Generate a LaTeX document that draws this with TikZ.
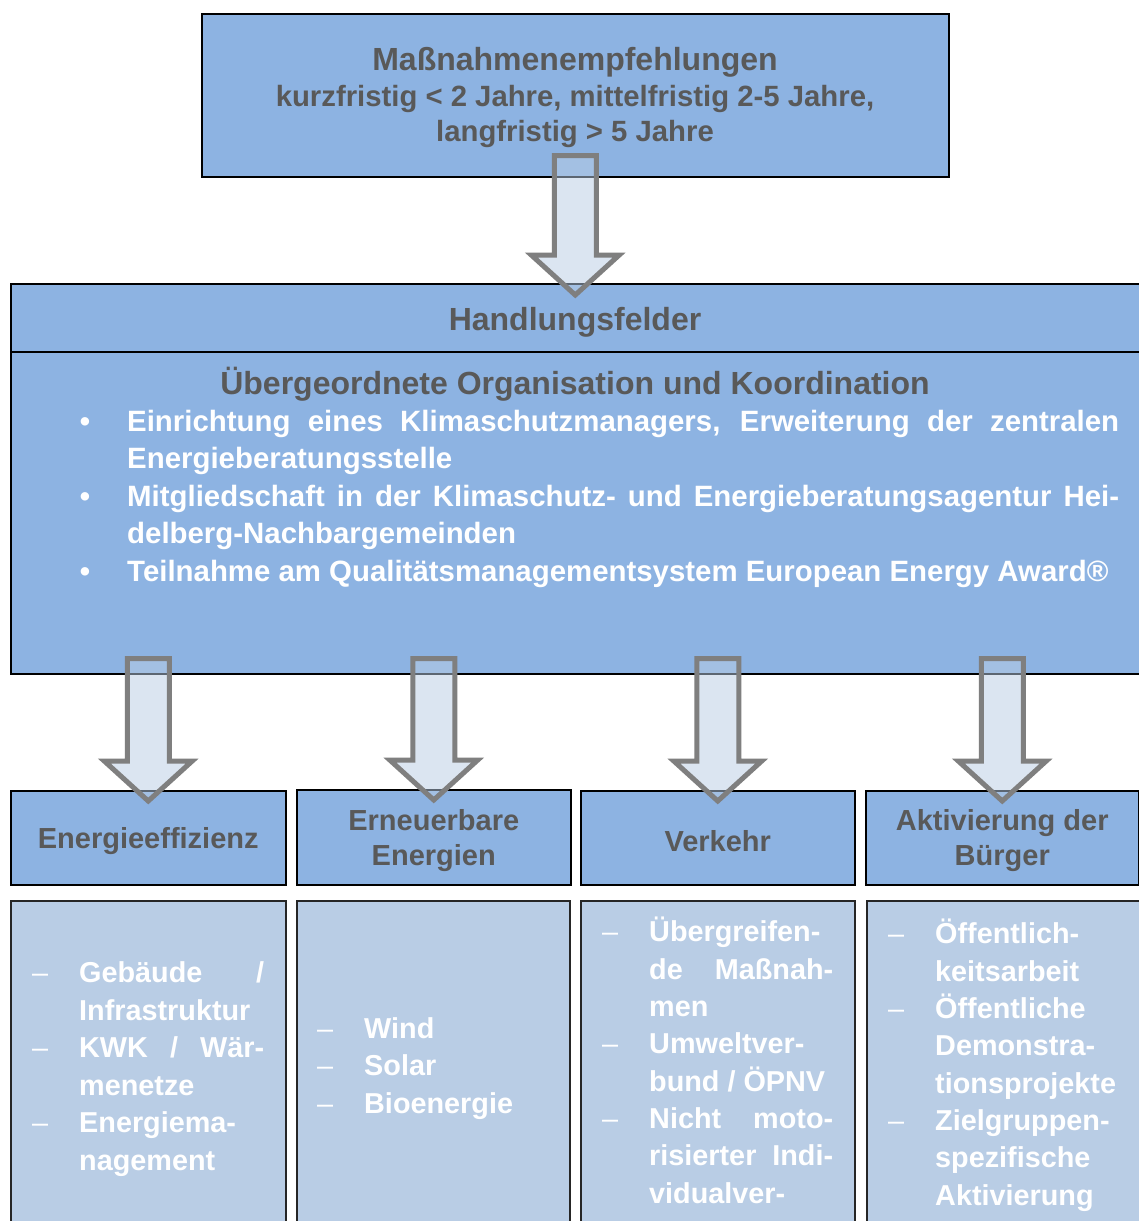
\documentclass[tikz,border=0pt]{standalone}
\usepackage{fontspec}
\setmainfont{Liberation Sans}
\usetikzlibrary{calc}
\definecolor{boxblue}{HTML}{8DB3E2}
\definecolor{lightblue}{HTML}{B9CDE5}
\definecolor{titlegray}{HTML}{595959}
\definecolor{arrowgray}{HTML}{7F7F7F}
\newcommand\bdash{\llap{\mdseries\textendash\hspace{31pt}}}
\newcommand\bbullet{\llap{•\hspace{37pt}}}
\newcommand\fatarrow[2]{%
  \draw[fatarrowstyle] let \p1=(#1), \p2=(#2) in
    (\x1-21pt,\y1) -- (\x1+21pt,\y1) -- (\x1+21pt,\y2+40pt) -- (\x1+44pt,\y2+40pt)
    -- (\x1,\y2) -- (\x1-44pt,\y2+40pt) -- (\x1-21pt,\y2+40pt) -- cycle;}
\begin{document}
\begin{tikzpicture}[x=1pt,y=-1pt,
  mainbox/.style={draw=black, line width=1.5pt, fill=boxblue, inner sep=0pt, anchor=north west},
  subbox/.style={draw=black!85, line width=1.5pt, fill=lightblue, inner sep=0pt, anchor=north west},
  headtext/.style={text=titlegray, font=\bfseries\fontsize{29}{35}\selectfont, align=center, inner sep=0pt},
  titletext/.style={text=titlegray, font=\bfseries\fontsize{32}{37}\selectfont, align=center, inner sep=0pt},
  bodytext/.style={text=white, font=\bfseries\fontsize{28.8}{37.5}\selectfont, align=left, anchor=base west, inner sep=0pt},
  fatarrowstyle/.style={draw=arrowgray, line width=5pt, fill=lightblue, fill opacity=0.5, line join=miter}
]
\useasboundingbox (0,0) rectangle (1139,1221);
\fill[white] (0,0) rectangle (1139,1221);
\clip (0,0) rectangle (1139,1221);

% top box
\node[mainbox, minimum width=747pt, minimum height=163pt] (top) at (201,13) {};
\node[headtext, font=\bfseries\fontsize{29.3}{35}\selectfont] (toptext) at (575,98)
  {{\fontsize{32}{37}\selectfont Maßnahmenempfehlungen}\\[1pt]
   kurzfristig < 2 Jahre, mittelfristig 2-5 Jahre,\\
   langfristig > 5 Jahre};

% Handlungsfelder box
\node[mainbox, minimum width=1129pt, minimum height=390pt] (hf) at (10,283) {};
\draw[line width=1.5pt] ($(hf.north west)+(0,69)$) -- ($(hf.north east)+(0,69)$);
\node[titletext] (hftitle) at (575,322.5) {Handlungsfelder};
\node[titletext] (orgtitle) at (575,384) {Übergeordnete Organisation und Koordination};
% last baseline of five lines
\node[bodytext, font=\bfseries\fontsize{29.4}{37.5}\selectfont] (orgbody) at (127,581)
  {\bbullet\makebox[992pt][s]{Einrichtung eines Klimaschutzmanagers, Erweiterung der zentralen}\\
   Energieberatungsstelle\\
   \bbullet\makebox[992pt][s]{Mitgliedschaft in der Klimaschutz- und Energieberatungsagentur Hei-}\\
   delberg-Nachbargemeinden\\
   \bbullet Teilnahme am Qualitätsmanagementsystem European Energy Award®};

% header boxes
\node[mainbox, minimum width=275pt, minimum height=94pt] (h1) at (10,790) {};
\node[mainbox, minimum width=274pt, minimum height=95pt] (h2) at (296,789) {};
\node[mainbox, minimum width=274pt, minimum height=94pt] (h3) at (580,790) {};
\node[mainbox, minimum width=273pt, minimum height=94pt] (h4) at (865,790) {};
\node[headtext] (h1text) at ($(h1.center)+(0,3.5)$) {Energieeffizienz};
\node[headtext] (h2text) at ($(h2.center)+(0,3)$) {Erneuerbare\\Energien};
\node[headtext] (h3text) at ($(h3.center)+(0,3.5)$) {Verkehr};
\node[headtext] (h4text) at ($(h4.center)+(0,3)$) {Aktivierung der\\Bürger};

% sub boxes
\node[subbox, minimum width=275pt, minimum height=340pt] (s1) at (10,900) {};
\node[subbox, minimum width=273pt, minimum height=340pt] (s2) at (296,900) {};
\node[subbox, minimum width=274pt, minimum height=340pt] (s3) at (580,900) {};
\node[subbox, minimum width=273pt, minimum height=340pt] (s4) at (866,900) {};

\node[bodytext] (t1) at (79,1170)
  {\bdash\makebox[185pt][s]{Gebäude /}\\
   Infrastruktur\\
   \bdash\makebox[185pt][s]{KWK / Wär-}\\
   menetze\\
   \bdash Energiema-\\
   nagement};
\node[bodytext] (t2) at (364,1113)
  {\bdash Wind\\ \bdash Solar\\ \bdash Bioenergie};
\node[bodytext, font=\bfseries\fontsize{28.8}{37.3}\selectfont] (t3) at (649,1203)
  {\bdash Übergreifen-\\
   \makebox[184pt][s]{de Maßnah-}\\
   men\\
   \bdash Umweltver-\\
   bund / ÖPNV\\
   \bdash\makebox[184pt][s]{Nicht moto-}\\
   \makebox[184pt][s]{risierter Indi-}\\
   vidualver-};
\node[bodytext, font=\bfseries\fontsize{28.8}{37.3}\selectfont] (t4) at (935,1205)
  {\bdash Öffentlich-\\
   keitsarbeit\\
   \bdash Öffentliche\\
   Demonstra-\\
   tionsprojekte\\
   \bdash Zielgruppen-\\
   spezifische\\
   Aktivierung};

% arrows
\coordinate (a0s) at ($(top.south)+(0,-22)$);
\coordinate (a0t) at ($(hf.north)+(0,12)$);
\fatarrow{a0s}{a0t}
\foreach \b in {h1,h2,h3,h4}{
  \coordinate (\b s) at ($(\b.north |- hf.south)+(0,-16)$);
  \coordinate (\b t) at ($(\b.north)+(0,11)$);
  \fatarrow{\b s}{\b t}
}
\end{tikzpicture}
\end{document}
